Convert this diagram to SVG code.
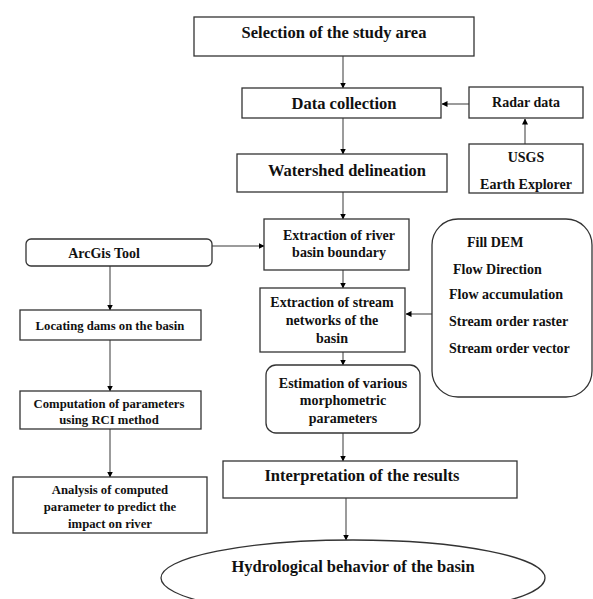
<svg xmlns="http://www.w3.org/2000/svg" width="593" height="599" viewBox="0 0 593 599">
<style>
.box{fill:#fff;stroke:#333;stroke-width:1.3}
.t{font-family:"Liberation Serif","Times New Roman",serif;font-weight:bold;fill:#111;text-anchor:middle}
.tl{font-family:"Liberation Serif","Times New Roman",serif;font-weight:bold;fill:#111;font-size:14px}
.big{font-size:16.5px}
.mid{font-size:14px}
.sm{font-size:12.7px}
.c{fill:none;stroke:#7a7a7a;stroke-width:1.5;marker-end:url(#ah)}
</style>
<defs>
<marker id="ah" markerWidth="6" markerHeight="6" refX="5.5" refY="3" orient="auto" markerUnits="userSpaceOnUse">
<path d="M0,0 L6,3 L0,6 Z" fill="#000"/>
</marker>
</defs>
<rect width="593" height="599" fill="#fff"/>
<g id="connectors">
<line class="c" x1="343" y1="56" x2="343" y2="88"/>
<line class="c" x1="469" y1="104" x2="442" y2="104"/>
<line class="c" x1="525" y1="144" x2="525" y2="119"/>
<line class="c" x1="343" y1="118" x2="343" y2="154"/>
<line class="c" x1="343" y1="192" x2="343" y2="219"/>
<line class="c" x1="212" y1="246" x2="264" y2="246"/>
<line class="c" x1="343" y1="270" x2="343" y2="288"/>
<line class="c" x1="432" y1="314" x2="406" y2="314"/>
<line class="c" x1="343" y1="352" x2="343" y2="365"/>
<line class="c" x1="343" y1="433" x2="343" y2="461"/>
<line class="c" x1="346" y1="498" x2="346" y2="540"/>
<line class="c" x1="110" y1="266" x2="110" y2="310"/>
<line class="c" x1="110" y1="340" x2="110" y2="391"/>
<line class="c" x1="110" y1="429" x2="110" y2="477"/>
</g>
<g id="selection">
<rect class="box" x="194" y="17" width="280" height="39"/>
<text class="t big" x="334" y="38">Selection of the study area</text>
</g>
<g id="data-collection">
<rect class="box" x="242" y="88" width="199" height="30"/>
<text class="t big" x="344" y="109">Data collection</text>
</g>
<g id="radar">
<rect class="box" x="469" y="87" width="114" height="31"/>
<text class="t mid" x="526" y="107">Radar data</text>
</g>
<g id="usgs">
<rect class="box" x="469" y="144" width="114" height="49"/>
<text class="t mid" x="526" y="162">USGS</text>
<text class="t mid" x="526" y="189">Earth Explorer</text>
</g>
<g id="watershed">
<rect class="box" x="237" y="154" width="210" height="38"/>
<text class="t big" x="347" y="176">Watershed delineation</text>
</g>
<g id="river-basin">
<rect class="box" x="264" y="219" width="145" height="51"/>
<text class="t mid" x="339" y="240">Extraction of river</text>
<text class="t mid" x="339" y="257">basin boundary</text>
</g>
<g id="arcgis">
<rect class="box" x="26" y="239" width="186" height="27" rx="5"/>
<text class="t mid" x="104" y="258">ArcGis Tool</text>
</g>
<g id="stream-networks">
<rect class="box" x="260" y="288" width="145" height="64"/>
<text class="t mid" x="332" y="307">Extraction of stream</text>
<text class="t mid" x="332" y="325">networks of the</text>
<text class="t mid" x="332" y="343">basin</text>
</g>
<g id="dem-steps">
<rect class="box" x="432" y="219" width="160" height="178" rx="26"/>
<text class="tl" x="467" y="247">Fill DEM</text>
<text class="tl" x="453" y="274">Flow Direction</text>
<text class="tl" x="449" y="299">Flow accumulation</text>
<text class="tl" x="449" y="326">Stream order  raster</text>
<text class="tl" x="449" y="353">Stream order vector</text>
</g>
<g id="locating-dams">
<rect class="box" x="20" y="310" width="181" height="30"/>
<text class="t sm" x="110" y="330">Locating dams on the basin</text>
</g>
<g id="estimation">
<rect class="box" x="266" y="365" width="154" height="68" rx="10"/>
<text class="t mid" x="343" y="388">Estimation of various</text>
<text class="t mid" x="343" y="405">morphometric</text>
<text class="t mid" x="343" y="423">parameters</text>
</g>
<g id="computation">
<rect class="box" x="20" y="391" width="181" height="38"/>
<text class="t sm" x="109" y="408">Computation of parameters</text>
<text class="t sm" x="109" y="424">using RCI method</text>
</g>
<g id="analysis">
<rect class="box" x="13" y="477" width="194" height="56"/>
<text class="t sm" x="110" y="494">Analysis of computed</text>
<text class="t sm" x="110" y="511">parameter  to predict the</text>
<text class="t sm" x="110" y="528">impact on river</text>
</g>
<g id="interpretation">
<rect class="box" x="223" y="461" width="294" height="37"/>
<text class="t big" x="362" y="481">Interpretation of the results</text>
</g>
<g id="hydrological">
<ellipse class="box" cx="353" cy="578" rx="192" ry="38"/>
<text class="t big" x="353" y="572">Hydrological behavior of the basin</text>
</g>
</svg>
